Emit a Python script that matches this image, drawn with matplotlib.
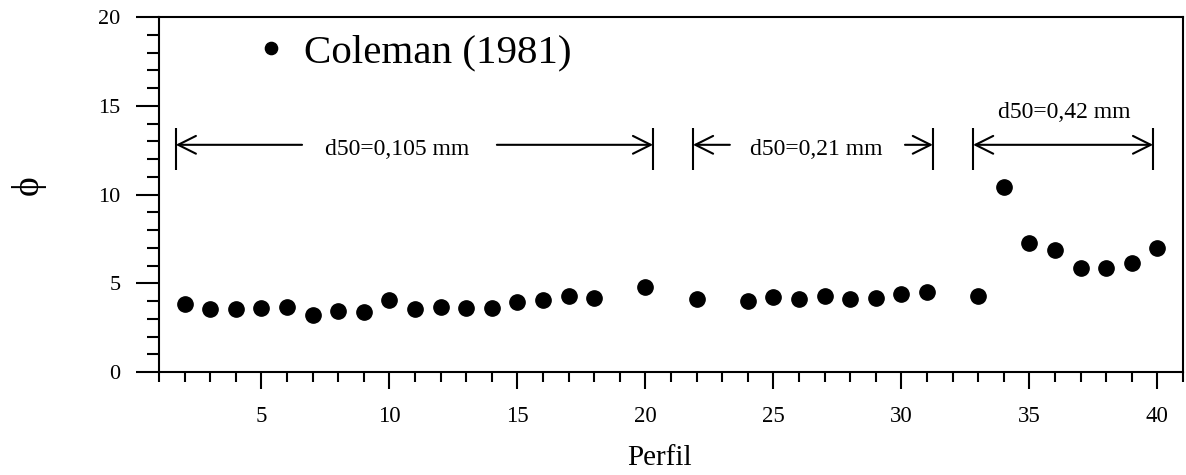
import matplotlib
matplotlib.use('Agg')
import matplotlib.pyplot as plt
from matplotlib.ticker import MultipleLocator

plt.rcParams['font.family'] = ['Liberation Serif', 'DejaVu Serif']

# ---- data ----
perfil = [2, 3, 4, 5, 6, 7, 8, 9, 10, 11, 12, 13, 14, 15, 16, 17, 18, 20,
          22, 24, 25, 26, 27, 28, 29, 30, 31, 33, 34, 35, 36, 37, 38, 39, 40]
phi = [3.82, 3.54, 3.54, 3.60, 3.65, 3.20, 3.43, 3.40, 4.04, 3.54, 3.65, 3.60,
       3.60, 3.93, 4.04, 4.27, 4.16, 4.78, 4.10, 3.99, 4.20, 4.10, 4.27, 4.10,
       4.16, 4.38, 4.49, 4.27, 10.40, 7.25, 6.85, 5.84, 5.84, 6.12, 6.97]
series_label = 'Coleman (1981)'

# dimension annotations (d50 groups)
group_labels = ['d50=0,105 mm', 'd50=0,21 mm', 'd50=0,42 mm']
group_text_x = [10.3, 26.66, 36.35]
group_text_y = [12.55, 12.55, 14.6]
bar_x = [1.66, 20.3, 21.86, 31.23, 32.8, 39.83]
bar_ylo, bar_yhi = 11.4, 13.75
arrow_y = 12.8
single_arrows = [(6.59, 1.66), (14.2, 20.3), (23.3, 21.86), (30.14, 31.23)]
double_arrows = [(32.8, 39.83)]

fig = plt.figure(figsize=(11.86, 4.75), dpi=100)
ax = fig.add_axes([0.134, 0.2168, 0.8635, 0.7474])

ax.plot(perfil, phi, 'o', color='black', ms=11, ls='none', label=series_label)

ax.set_xlim(1, 41)
ax.set_ylim(0, 20)
ax.xaxis.set_major_locator(MultipleLocator(5))
ax.xaxis.set_minor_locator(MultipleLocator(1))
ax.yaxis.set_major_locator(MultipleLocator(5))
ax.yaxis.set_minor_locator(MultipleLocator(1))

for s in ax.spines.values():
    s.set_linewidth(1.5)
ax.tick_params(axis='x', which='major', direction='out', length=12.5, width=1.5,
               pad=12, labelsize=16.5)
ax.tick_params(axis='x', which='minor', direction='out', length=7.2, width=1.5)
ax.tick_params(axis='y', which='major', direction='out', length=16.5, width=1.5,
               pad=11, labelsize=16)
ax.tick_params(axis='y', which='minor', direction='out', length=8.6, width=1.5)

ax.set_xlabel('Perfil', fontsize=21)
ax.xaxis.label.set_va('center')
ax.xaxis.set_label_coords(0.489, -0.242)
ax.set_ylabel('\u03d5', fontsize=27, family=['Liberation Serif', 'DejaVu Serif'])
ax.yaxis.label.set_va('center')
ax.yaxis.set_label_coords(-0.128, 0.527)

# dimension bars and arrows
ax.vlines(bar_x, bar_ylo, bar_yhi, color='black', lw=1.5)
for x0, x1 in single_arrows:
    ax.annotate('', xy=(x1, arrow_y), xytext=(x0, arrow_y),
                arrowprops=dict(arrowstyle='->', lw=1.5, color='black',
                                shrinkA=0, shrinkB=0, mutation_scale=32))
for x0, x1 in double_arrows:
    ax.annotate('', xy=(x1, arrow_y), xytext=(x0, arrow_y),
                arrowprops=dict(arrowstyle='<->', lw=1.5, color='black',
                                shrinkA=0, shrinkB=0, mutation_scale=32))
for lab, tx, ty in zip(group_labels, group_text_x, group_text_y):
    ax.text(tx, ty, lab, ha='center', va='center', fontsize=17)

ax.legend(loc='center left', bbox_to_anchor=(0.0894, 0.899), frameon=False,
          fontsize=29.5, handlelength=1.0, handletextpad=0.3, borderpad=0,
          borderaxespad=0, markerscale=0.8)

fig.savefig('out.png', dpi=100)
